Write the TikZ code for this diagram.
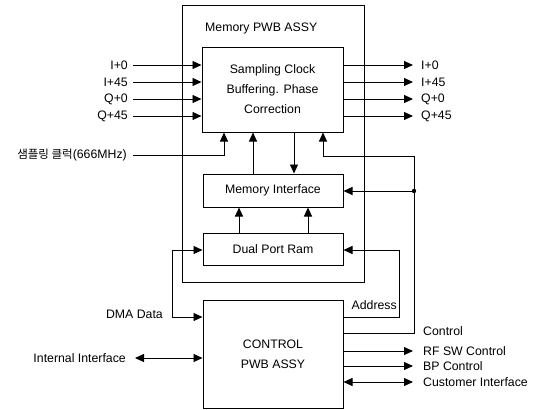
\documentclass[tikz,border=0pt]{standalone}
\usepackage{fontspec}
\setmainfont{Liberation Sans}
\newfontfamily\krfont{Noto Sans CJK KR}
\usetikzlibrary{arrows.meta}
\tikzset{
  blk/.style={draw, line width=1pt, inner sep=0pt},
  lbl/.style={inner sep=1pt, font=\fontsize{12.3}{14}\selectfont},
  wire/.style={line width=0.9pt},
  arr/.style={wire, -{Triangle[length=9pt,width=8pt]}},
  darr/.style={wire, {Triangle[length=9pt,width=8pt]}-{Triangle[length=9pt,width=8pt]}},
}
\begin{document}
\begin{tikzpicture}[x=1pt,y=-1pt]
\useasboundingbox (0,0) rectangle (539,410);
\fontsize{12.3}{14}\selectfont
% boxes
\node[blk, minimum width=182pt, minimum height=277pt] (outer) at (273,143.5) {};
\node[lbl, anchor=west] (outerlbl) at (204,28) {Memory PWB ASSY};
\node[blk, minimum width=141pt, minimum height=85pt, align=center,
      font=\fontsize{12.3}{20}\selectfont] (samp) at (272.5,89.5)
      {Sampling Clock\\Buffering. Phase\\Correction};
\node[blk, minimum width=140pt, minimum height=33pt] (memif) at (273,190.5) {Memory Interface};
\node[blk, minimum width=140pt, minimum height=32pt] (dpr) at (273,249) {Dual Port Ram};
\node[blk, minimum width=140pt, minimum height=108pt, align=center,
      font=\fontsize{12.3}{20}\selectfont] (ctrl) at (273,354) {CONTROL\\PWB ASSY};

% inputs
\foreach \n/\t/\y in {a/I+0/65, b/I+45/82, c/Q+0/99, d/Q+45/116}{
  \node[lbl, anchor=east] (in\n) at (129,\y) {\t};
  \coordinate (ic\n) at (133,\y);
  \draw[arr] (ic\n) -- (samp.west |- ic\n);
  \coordinate (oc\n) at (413,\y);
  \draw[arr] (samp.east |- oc\n) -- (oc\n);
  \node[lbl, anchor=west] (out\n) at (420,\y) {\t};
}

% sampling clock
\node[lbl, anchor=east] (clk) at (128,155) {{\krfont\fontsize{11.5}{13}\selectfont 샘플링 클럭}(666MHz)};
\coordinate (clkc) at (133,155);
\coordinate (clkx) at (224,155);
\draw[arr] (clkc) -- (clkx) -- (samp.south -| clkx);

% memory interface <-> sampling
\coordinate (x253) at (253,0);
\draw[arr] (memif.north -| x253) -- (samp.south -| x253);
\coordinate (x294) at (294,0);
\draw[arr] (samp.south -| x294) -- (memif.north -| x294);

% control bus
\coordinate (dot) at (414,191);
\coordinate (busT) at (414,156);
\coordinate (busL) at (323,156);
\draw[arr] (dot) -- (busT) -- (busL) -- (samp.south -| busL);
\draw[arr] (dot) -- (memif.east |- dot);
\fill (dot) circle (2.2pt);

% dual port -> memory interface
\coordinate (x239) at (239,0);
\coordinate (x308) at (308,0);
\draw[arr] (dpr.north -| x239) -- (memif.south -| x239);
\draw[arr] (dpr.north -| x308) -- (memif.south -| x308);

% DMA data
\coordinate (dma) at (172,317);
\coordinate (dmaT) at (172,250);
\draw[arr] (dma) -- (dmaT) -- (dpr.west |- dmaT);
\draw[arr] (dma) -- (ctrl.west |- dma);
\node[lbl, anchor=east] (dmalbl) at (164,314) {DMA Data};

% internal interface
\coordinate (ii) at (135,358);
\draw[darr] (ii) -- (ctrl.west |- ii);
\node[lbl, anchor=east] (iilbl) at (127,358) {Internal Interface};

% address
\coordinate (adB) at (399,317);
\coordinate (adT) at (399,250);
\draw[arr] (ctrl.east |- adB) -- (adB) -- (adT) -- (dpr.east |- adT);
\node[lbl, anchor=east] (adlbl) at (398,305) {Address};

% control line
\coordinate (cb) at (414,333);
\draw[wire] (ctrl.east |- cb) -- (cb) -- (dot);
\node[lbl, anchor=west] (ctlbl) at (422,331) {Control};

% right outputs
\coordinate (rf) at (413,351);
\draw[arr] (ctrl.east |- rf) -- (rf);
\node[lbl, anchor=west] (rflbl) at (422,351) {RF SW Control};
\coordinate (bp) at (413,366);
\draw[arr] (ctrl.east |- bp) -- (bp);
\node[lbl, anchor=west] (bplbl) at (422,366) {BP Control};
\coordinate (ci) at (413,382);
\draw[darr] (ctrl.east |- ci) -- (ci);
\node[lbl, anchor=west] (cilbl) at (422,382) {Customer Interface};
\end{tikzpicture}
\end{document}
